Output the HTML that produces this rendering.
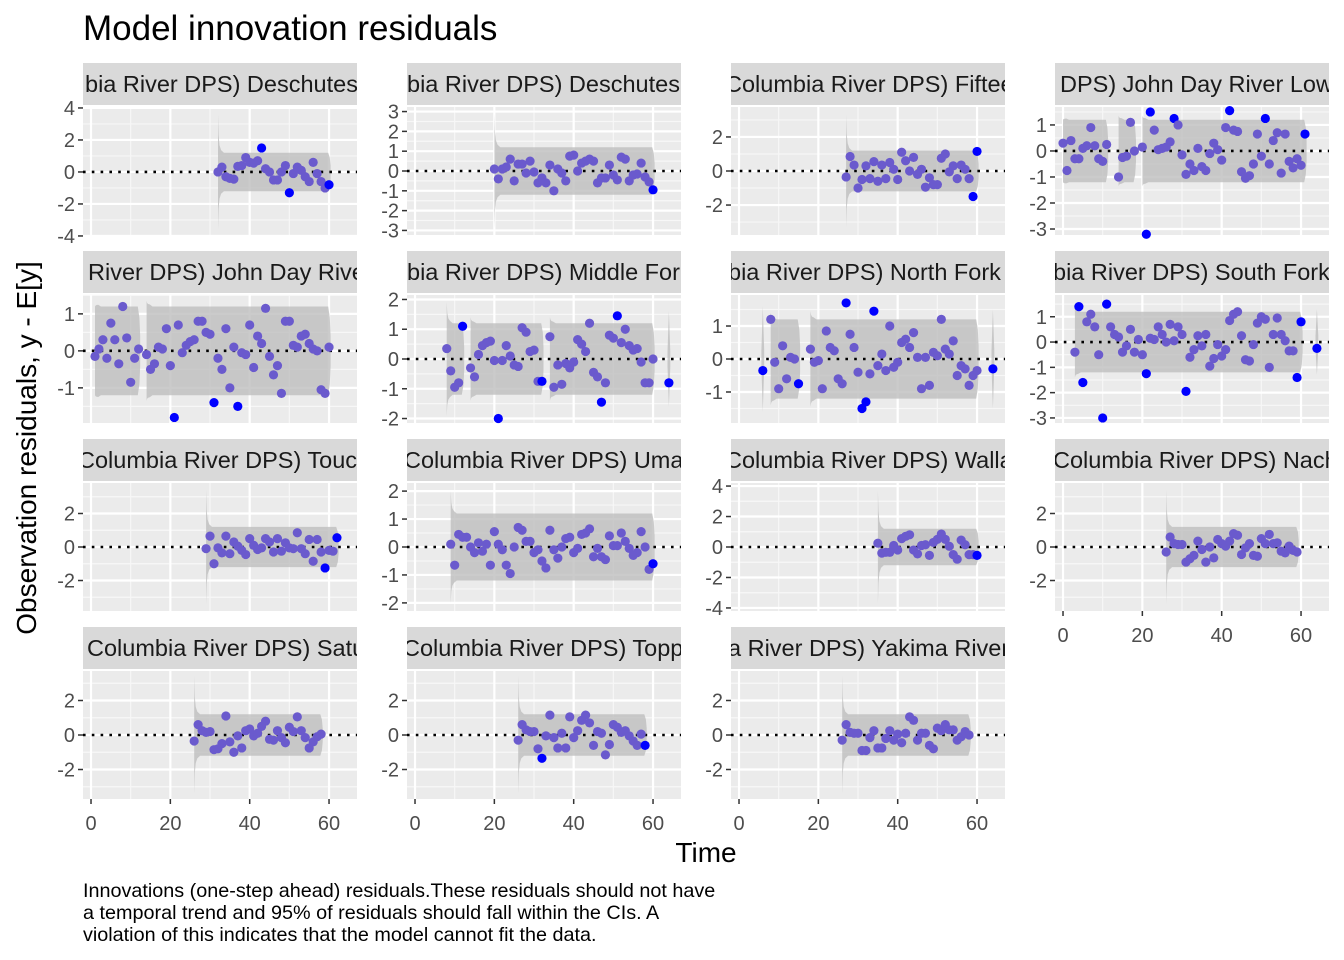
<!DOCTYPE html>
<html><head><meta charset="utf-8"><title>Model innovation residuals</title>
<style>
html,body{margin:0;padding:0;background:#fff;}
svg{display:block;font-family:"Liberation Sans",Arial,sans-serif;}
</style></head>
<body>
<svg id="chart" width="1344" height="960" viewBox="0 0 1344 960">
<rect width="1344" height="960" fill="#ffffff"/>
<text x="83" y="40" font-size="35" fill="#000">Model innovation residuals</text>
<text transform="translate(36,448) rotate(-90)" text-anchor="middle" font-size="28" fill="#000">Observation residuals, y - E[y]</text>
<text x="706" y="862" text-anchor="middle" font-size="28" fill="#000">Time</text>
<g font-size="19.8" fill="#000">
<text x="83" y="897">Innovations (one-step ahead) residuals.These residuals should not have</text>
<text x="83" y="919">a temporal trend and 95% of residuals should fall within the CIs. A</text>
<text x="83" y="941">violation of this indicates that the model cannot fit the data.</text>
</g>
<g id="panels"></g>
</svg>
<script>
// ---- data ----
const stripLabels = ["bia River DPS) Deschutes","bia River DPS) Deschutes","Columbia River DPS) Fifteen","DPS) John Day River Lower","River DPS) John Day River","bia River DPS) Middle Fork","bia River DPS) North Fork","bia River DPS) South Fork","Columbia River DPS) Touchet","Columbia River DPS) Umatilla","Columbia River DPS) Walla Walla","Columbia River DPS) Naches","Columbia River DPS) Saturday","Columbia River DPS) Toppenish","a River DPS) Yakima River"];
const stripTextStart = [2,0,-6,5,5,0,-3,-2,-5,-3,-6,-2,4,-4,-3];
const xTicks = [0,20,40,60];
const yTicks = [[-4,-2,0,2,4],[-3,-2,-1,0,1,2,3],[-2,0,2],[-3,-2,-1,0,1],[-1,0,1],[-2,-1,0,1,2],[-1,0,1],[-3,-2,-1,0,1],[-2,0,2],[-2,-1,0,1,2],[-4,-2,0,2,4],[-2,0,2],[-2,0,2],[-2,0,2],[-2,0,2]];
const yMin = [-3.94,-3.23,-3.76,-3.23,-1.95,-2.15,-1.94,-3.2,-3.82,-2.29,-4.2,-3.82,-3.71,-3.71,-3.71];
const yMax = [4.06,3.23,3.76,1.69,1.51,2.15,1.94,1.86,3.82,2.29,4.2,3.82,3.71,3.71,3.71];
const startTimes = [32,20,27,0,1,8,6,3,29,9,35,26,26,26,26];
const p1Values = [0.0,0.3,-0.3,-0.4,-0.45,0.35,0.4,0.9,0.6,0.55,0.7,1.5,0.2,0.0,-0.5,-0.5,0.0,0.4,-1.3,-0.1,0.3,0.1,-0.3,-0.6,0.6,-0.1,-0.6,-1.0,-0.8];
const p2Values = [0.1,-0.4,0.1,0.2,0.6,-0.5,0.35,0.35,-0.1,0.5,-0.05,-0.6,-0.35,-0.6,0.3,-1.0,0.1,-0.1,-0.5,0.75,0.8,0.0,0.4,0.5,0.6,0.5,-0.6,-0.35,-0.35,0.3,-0.2,-0.45,0.7,0.6,-0.5,-0.2,-0.15,0.4,-0.3,-0.55,-0.95];
const p3Values = [-0.35,0.85,0.35,-1.0,-0.5,0.3,-0.45,0.55,-0.6,0.35,-0.45,0.5,0.1,-0.5,1.1,0.6,0.0,0.8,-0.2,0.1,-0.95,-0.4,-0.8,-0.8,0.75,1.0,-0.05,0.3,-0.45,0.35,0.1,-0.45,-1.5,1.15];
const p4Values = [0.3,-0.75,0.4,-0.3,-0.3,0.1,0.2,0.9,0.2,-0.3,-0.4,0.25,null,null,-1.0,-0.25,-0.2,1.1,0.0,null,0.15,-3.2,1.5,0.8,0.05,0.1,0.15,0.35,1.25,1.0,-0.15,-0.9,-0.5,-0.75,0.1,-0.6,-0.75,-0.1,0.3,0.05,-0.35,0.9,1.55,0.8,0.75,-0.8,-1.05,-0.95,-0.5,0.65,-0.2,1.25,-0.5,0.4,0.7,-0.85,0.65,-0.4,-0.65,-0.3,-0.55,0.65];
const p5Values = [-0.15,0.05,0.3,-0.2,0.75,0.3,-0.35,1.2,0.35,-0.85,-0.2,0.05,null,-0.1,-0.5,-0.35,0.1,0.05,0.6,-0.4,-1.8,0.7,-0.05,0.15,0.25,0.3,0.8,0.8,0.5,0.45,-1.4,-0.2,-0.5,0.6,-1.0,0.1,-1.5,-0.05,-0.1,0.7,-0.45,0.4,0.2,1.15,-0.15,-0.65,-0.4,-1.15,0.8,0.8,0.15,0.1,0.4,0.45,0.2,0.05,0.0,-1.05,-1.15,0.1];
const p6Values = [0.35,-0.4,-0.95,-0.8,1.1,null,-0.3,-0.6,0.15,0.45,0.55,0.6,-0.05,-2.0,-0.05,0.45,0.1,-0.2,-0.25,1.05,0.9,0.25,0.3,-0.75,-0.75,null,0.75,-0.95,-0.2,-0.85,-0.15,-0.3,-0.1,0.65,0.5,0.25,1.2,-0.45,-0.6,-1.45,-0.8,0.8,0.7,1.45,0.55,1.0,0.45,0.3,0.35,-0.1,-0.8,-0.8,0.0,null,null,null,-0.8];
const p7Values = [-0.35,null,1.2,-0.1,-0.9,0.4,-0.6,0.05,0.0,-0.75,null,null,0.3,-0.1,-0.05,-0.9,0.85,0.35,0.25,-0.6,-0.75,1.7,0.75,0.35,-0.4,-1.5,-1.3,-0.45,1.45,-0.2,0.15,-0.35,1.0,-0.25,-0.1,0.5,0.6,0.35,0.8,0.05,-0.9,0.05,-0.8,0.2,0.1,1.2,0.3,0.15,0.55,-0.5,-0.2,-0.3,-0.8,-0.5,-0.35,null,null,null,-0.3];
const p8Values = [-0.4,1.4,-1.6,0.8,1.1,0.6,-0.5,-3.0,1.5,0.6,0.3,0.2,-0.4,-0.15,0.5,-0.4,0.1,-0.5,-1.25,0.15,0.1,0.6,0.3,0.0,0.7,0.05,0.6,0.3,-1.95,-0.6,-0.3,0.25,-0.15,0.3,-0.95,-0.65,-0.1,-0.55,-0.3,0.85,1.1,1.2,0.25,-0.7,-0.75,-0.1,0.75,1.0,0.9,-1.0,0.3,0.95,0.3,0.05,-0.35,-0.35,-1.4,0.8,null,null,null,-0.25];
const p9Values = [-0.1,0.65,-1.0,-0.05,-0.35,0.65,-0.4,0.3,0.05,-0.2,-0.45,0.5,0.1,-0.15,-0.05,0.5,0.3,-0.3,0.5,-0.25,0.25,-0.05,-0.1,0.85,-0.1,-0.4,0.45,-0.85,0.45,-0.3,-1.25,-0.2,-0.25,0.55];
const p10Values = [0.1,-0.65,0.45,0.35,0.35,0.0,-0.2,0.15,-0.15,0.1,-0.65,0.55,0.1,-0.1,-0.65,-0.95,0.0,0.7,0.6,0.2,0.2,-0.2,-0.1,-0.5,-0.75,0.6,-0.1,-0.4,0.0,0.3,0.35,-0.2,-0.05,0.45,0.5,0.65,-0.35,-0.05,-0.35,-0.45,0.4,0.05,0.05,0.5,0.2,-0.05,-0.3,-0.2,0.55,0.0,-0.8,-0.6];
const p11Values = [0.25,-0.4,-0.35,-0.35,0.1,-0.2,0.55,0.7,0.8,-0.2,-0.45,0.1,0.15,-0.55,0.3,0.5,0.85,0.5,0.05,-0.5,-0.8,0.45,0.15,-0.5,-0.5,-0.55];
const p12Values = [-0.3,0.6,0.2,0.15,0.15,-0.9,-0.7,-0.5,0.35,-0.15,-0.9,0.0,-0.65,0.45,0.2,0.05,0.35,0.8,0.7,-0.45,-0.05,0.2,-0.5,-0.55,0.5,0.2,0.75,0.2,0.25,-0.25,-0.35,0.05,-0.2,-0.3];
const p13Values = [-0.35,0.6,0.25,0.15,0.2,-0.85,-0.8,-0.5,1.1,-0.4,-1.0,-0.05,-0.75,0.25,0.35,-0.05,0.1,0.5,0.8,-0.25,-0.3,0.25,-0.15,-0.45,0.45,0.2,1.05,0.25,-0.15,-0.75,-0.4,-0.1,0.05];
const p14Values = [-0.3,0.6,0.3,0.2,0.2,-0.8,-1.35,-0.05,1.15,-0.15,-0.75,0.1,-0.75,1.05,-0.15,0.25,0.85,1.15,0.7,-0.6,0.2,0.1,-1.15,-0.55,0.6,0.45,0.15,0.25,-0.05,-0.35,-0.6,0.05,-0.6];
const p15Values = [-0.3,0.6,0.15,0.1,0.1,-0.9,-0.9,-0.15,0.25,-0.75,-0.75,-0.2,0.25,-0.3,0.05,-0.45,0.1,1.05,0.85,-0.3,0.1,0.1,-0.6,-0.8,0.4,0.25,0.6,0.3,0.3,-0.3,-0.1,0.2,0.0];
const allValues = [p1Values,p2Values,p3Values,p4Values,p5Values,p6Values,p7Values,p8Values,p9Values,p10Values,p11Values,p12Values,p13Values,p14Values,p15Values];
// CI band segments: [startTime, endTime, startHalfWidth]
const bandSegments = [
 [[32,60,3.6]],[[20,60,2.9]],[[27,60,3.3]],
 [[0,11,1.2],[14,18,1.35],[20,61,1.35]],
 [[1,12,1.2],[14,60,1.35]],
 [[8,12,1.9],[14,32,1.4],[34,60,1.4],[64,64,1.6]],
 [[6,6,1.6],[8,15,1.4],[18,60,1.45],[64,64,1.5]],
 [[3,60,1.4],[64,64,1.3]],
 [[29,62,3.4]],[[9,60,2.0]],[[35,60,3.7]],[[26,59,3.4]],
 [[26,58,3.4]],[[26,58,3.4]],[[26,58,3.4]]
];
const ciHalf = 1.2;

// ---- layout ----
const NS = "http://www.w3.org/2000/svg";
const PW = 274, PH = 128, xDom = [-2.02, 67.05];
function mk(tag, attrs, parent){ const e=document.createElementNS(NS,tag); for(const k in attrs) e.setAttribute(k,attrs[k]); parent.appendChild(e); return e; }
const root = document.getElementById('panels');
for (let i=0;i<15;i++){
  const col=i%4,row=Math.floor(i/4);
  const L=83+col*324, T=107+row*188;
  const xs=t=>L+(t-xDom[0])/(xDom[1]-xDom[0])*PW;
  const ys=v=>T+(yMax[i]-v)/(yMax[i]-yMin[i])*PH;
  const g=mk('g',{},root);
  
  
  const strip=mk('svg',{x:L,y:T-44,width:PW,height:42,overflow:'hidden'},g);
  
  
  mk('rect',{x:0,y:0,width:PW,height:42,fill:'#D9D9D9'},strip);
  const st=mk('text',{x:stripTextStart[i],y:29,'font-size':23.5,fill:'#1A1A1A'},strip);
  st.textContent=stripLabels[i];
  const bg=mk('rect',{x:L,y:T,width:PW,height:PH,fill:'#EBEBEB'},g);
  
  
  const yt=yTicks[i];
  const step=yt[1]-yt[0];
  for(let k=0;k<=yt.length;k++){
    const v=yt[0]-step/2+k*step;
    if(v>yMin[i]&&v<yMax[i]) mk('line',{x1:L,x2:L+PW,y1:ys(v),y2:ys(v),stroke:'#F7F7F7','stroke-width':1.2},g);
  }
  [-10,10,30,50].forEach(t=>{ if(t>xDom[0]) mk('line',{x1:xs(t),x2:xs(t),y1:T,y2:T+PH,stroke:'#F7F7F7','stroke-width':1.2},g);});
  yt.forEach(v=>mk('line',{x1:L,x2:L+PW,y1:ys(v),y2:ys(v),stroke:'#FFFFFF','stroke-width':2.2},g));
  xTicks.forEach(t=>mk('line',{x1:xs(t),x2:xs(t),y1:T,y2:T+PH,stroke:'#FFFFFF','stroke-width':2.2},g));
  yt.forEach(v=>{
    mk('line',{x1:L-5,x2:L,y1:ys(v),y2:ys(v),stroke:'#333','stroke-width':1.5},g);
    const tl=mk('text',{x:L-8,y:ys(v)+7,'text-anchor':'end','font-size':20,fill:'#4D4D4D'},g);
    
    
    tl.textContent=String(v);
  });
  if(row===3||i===11){
    xTicks.forEach(t=>{
      mk('line',{x1:xs(t),x2:xs(t),y1:T+PH,y2:T+PH+5,stroke:'#333','stroke-width':1.5},g);
      const xl=mk('text',{x:xs(t),y:T+PH+31,'text-anchor':'middle','font-size':20,fill:'#4D4D4D'},g);
      
      
      xl.textContent=String(t);
    });
  }
  bandSegments[i].forEach(s=>{
    const t0=s[0],t1=s[1],F=s[2];
    let up;
    if(t0===t1){ up=[[t0-0.35,0.25],[t0,F],[t0+0.35,0.25]]; }
    else{
      const base=ciHalf+0.05;
      up=[[t0,F],[t0+0.15,base+(F-base)*0.45],[t0+0.4,base+(F-base)*0.18],[t0+0.8,base+(F-base)*0.05],[t0+1.5,ciHalf],[t1-0.2,ciHalf],[t1+0.2,0.9],[t1+0.4,0.4]];
    }
    const pts=up.map(p=>[xs(p[0]),ys(p[1])]).concat(up.slice().reverse().map(p=>[xs(p[0]),ys(-p[1])]));
    const rb=mk('polygon',{points:pts.map(p=>p[0].toFixed(1)+','+p[1].toFixed(1)).join(' '),fill:'#BEBEBE','fill-opacity':0.8},g);
    
    
  });
  const zl=mk('line',{x1:L,x2:L+PW,y1:ys(0),y2:ys(0),stroke:'#000','stroke-width':2.6,'stroke-dasharray':'2.6 6.2'},g);
  
  
  const vals=allValues[i];
  vals.forEach((v,k)=>{
    if(v===null) return;
    const t=startTimes[i]+k;
    const seg=bandSegments[i].find(s=>t>=s[0]-0.5&&t<=s[1]+0.5);
    let out=Math.abs(v)>ciHalf+0.02;
    if(seg&&seg[0]===seg[1]) out=true;
    else if(seg&&t>=seg[1]&&Math.abs(v)>0.5) out=true;
    const c=mk('circle',{cx:xs(t),cy:ys(v),r:4.6,fill:out?'#0000FF':'#6A5ACD'},g);
    
    
  });
}
</script>
</body></html>
